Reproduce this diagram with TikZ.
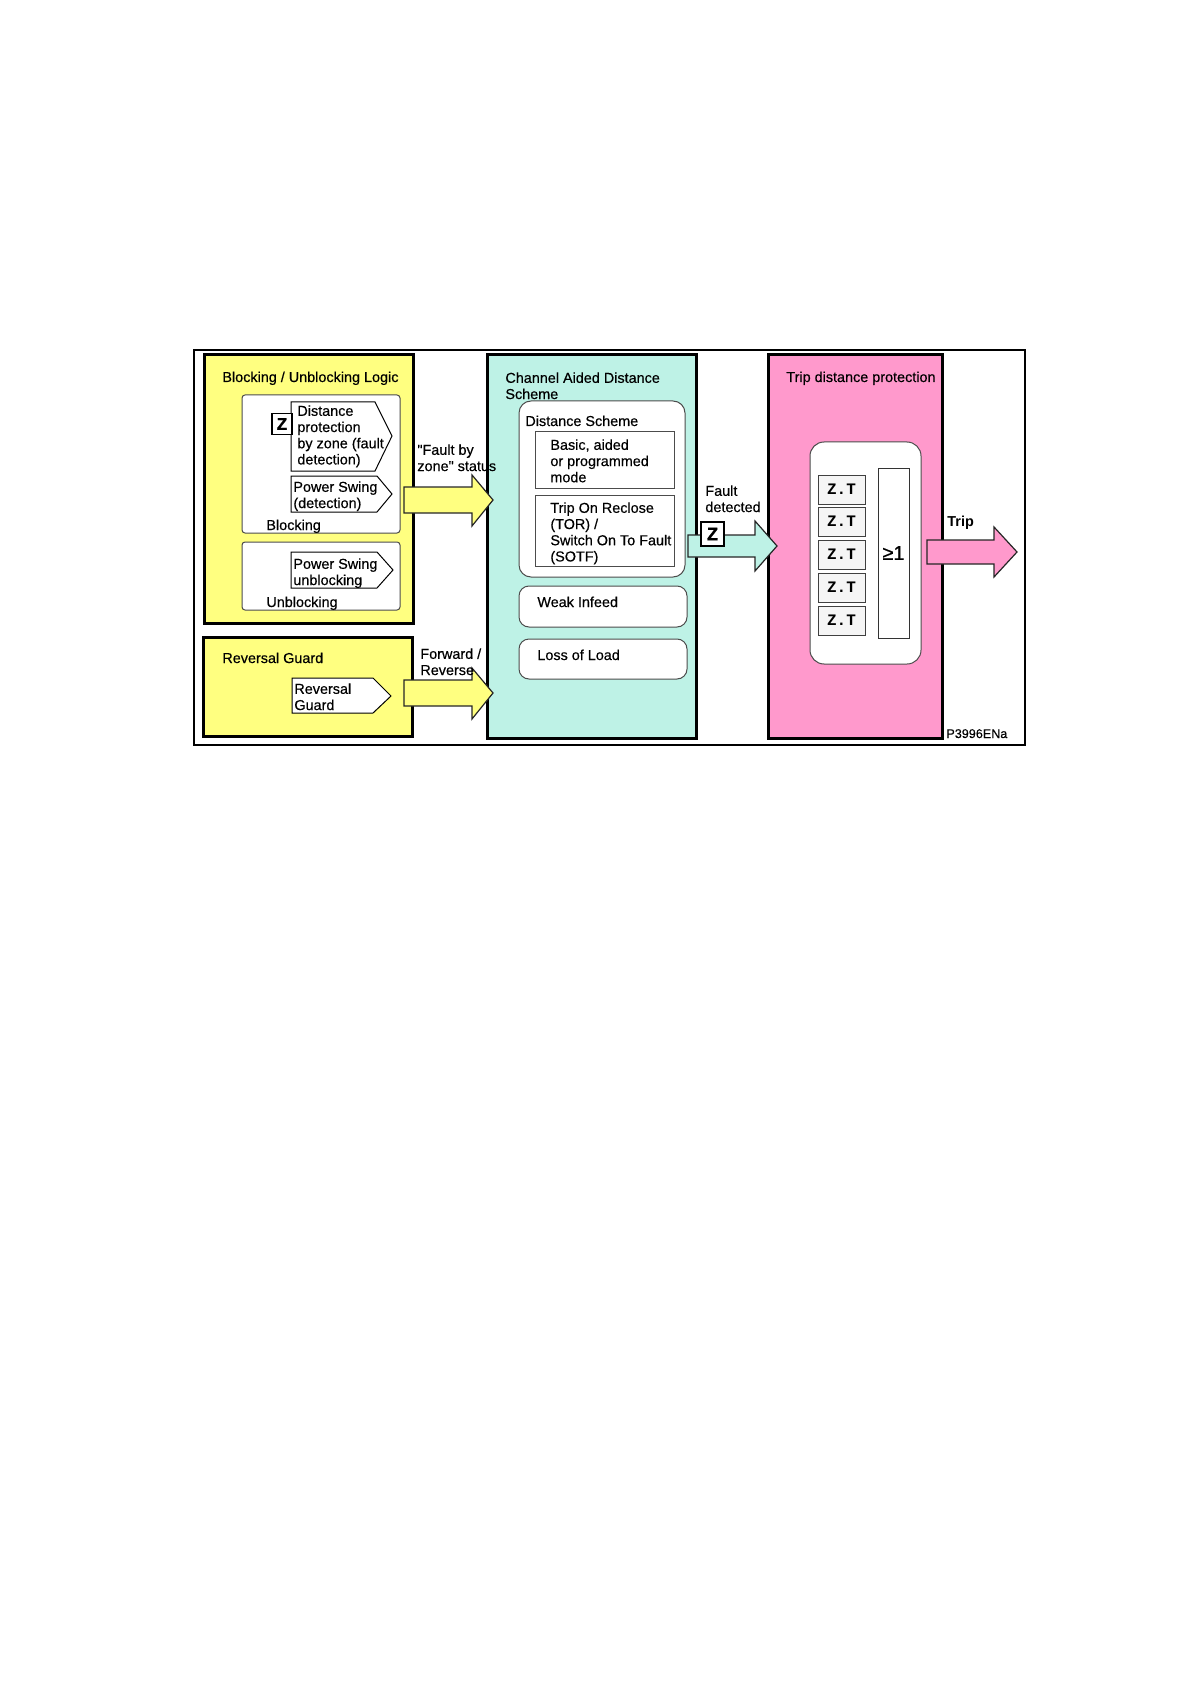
\documentclass[tikz,border=0pt]{standalone}
\usepackage{fontspec}
\setmainfont{Liberation Sans}
\newfontfamily\lblfont{Liberation Sans}[FakeBold=0.4]
\newfontfamily\zheavy{Liberation Sans}[BoldFeatures={FakeBold=1.5}]
\newfontfamily\zmono{Liberation Mono}
\usetikzlibrary{fit}
\definecolor{ylw}{HTML}{FFFF80}
\definecolor{cyn}{HTML}{BEF2E6}
\definecolor{pnk}{HTML}{FF99CC}
\begin{document}
\begin{tikzpicture}[x=0.5pt,y=-0.5pt,
  lbl/.style={font=\lblfont\fontsize{7.2}{8.1}\selectfont, inner sep=0pt, align=left},
  heavybox/.style={draw=black, line width=1.5pt, inner sep=0pt},
  lightbox/.style={draw=black!70, line width=0.5pt, inner sep=0pt, fill=white},
  pent/.style={draw=black, line width=0.5pt, fill=white},
  barrow/.style={draw=black!85, line width=0.6pt},
  ztbox/.style={draw=black!75, fill=black!4, line width=0.5pt, minimum width=23.5pt, minimum height=14.5pt, inner sep=0pt, font=\zmono\bfseries\fontsize{8}{8}\selectfont},
  zbox/.style={draw=black, fill=white, line width=0.6pt, inner sep=0pt, font=\zheavy\bfseries\fontsize{9}{9}\selectfont}]
\useasboundingbox (0,0) rectangle (1191,1684);

% outer frame
\node[draw, line width=0.6pt, inner sep=0pt, fit={(194,350) (1025,745)}] (outer) {};

% main blocks
\node[heavybox, fill=ylw, fit={(204,355) (413,623)}] (blu) {};
\node[heavybox, fill=ylw, fit={(203,637) (412,736)}] (rg) {};
\node[heavybox, fill=cyn, fit={(487,355) (696,738)}] (cads) {};
\node[heavybox, fill=pnk, fit={(768,355) (942,738)}] (tdp) {};

% titles
\node[lbl, anchor=base west] (bluT) at (222,382) {Blocking / Unblocking Logic};
\node[lbl, anchor=base west] (rgT) at (222,663) {Reversal Guard};
\node[lbl, anchor=north west] (cadsT) at (505,372) {Channel Aided Distance\\Scheme};
\node[lbl, anchor=base west] (tdpT) at (786,382) {Trip distance protection};

% blocking / unblocking
\node[lightbox, rounded corners=1.5pt, fit={(242,395) (400,533)}] (blkbox) {};
\node[lightbox, rounded corners=1.5pt, fit={(242,542) (400,610)}] (ublkbox) {};
\node[lbl, anchor=base west] (blkL) at (266,530) {Blocking};
\node[lbl, anchor=base west] (ublkL) at (266,607) {Unblocking};

\draw[pent] (291,402) -- (375,402) -- (392,436) -- (375,471) -- (291,471) -- cycle;
\node[lbl, anchor=north west] (dp) at (297,405) {Distance\\protection\\by zone (fault\\detection)};
\draw[pent] (291,476) -- (377,476) -- (392,494) -- (377,512) -- (291,512) -- cycle;
\node[lbl, anchor=north west] (psd) at (293,481) {Power Swing\\(detection)};
\draw[pent] (291,552) -- (377,552) -- (393,570) -- (377,588) -- (291,588) -- cycle;
\node[lbl, anchor=north west] (psu) at (293,558) {Power Swing\\unblocking};
\draw[pent] (292,678) -- (373,678) -- (391,696) -- (373,713) -- (292,713) -- cycle;
\node[lbl, anchor=north west] (rgp) at (294,683) {Reversal\\Guard};

\node[zbox, minimum width=10pt, minimum height=10.5pt, font=\zheavy\bfseries\fontsize{8.5}{8.5}\selectfont] (z1) at (282,424) {Z};

% channel aided distance scheme
\node[lightbox, rounded corners=6pt, fit={(519,401) (685,577)}] (ds) {};
\node[lbl, anchor=base west] (dsT) at (525,426) {Distance Scheme};
\node[lightbox, fit={(535,432) (674,488)}] (basic) {};
\node[lbl, anchor=north west] (basicT) at (550,439) {Basic, aided\\or programmed\\mode};
\node[lightbox, fit={(535,495) (674,566)}] (tor) {};
\node[lbl, anchor=north west] (torT) at (550,502) {Trip On Reclose\\(TOR) /\\Switch On To Fault\\(SOTF)};
\node[lightbox, rounded corners=5pt, fit={(519,586) (687,627)}] (wi) {};
\node[lbl, anchor=base west] (wiT) at (537,607) {Weak Infeed};
\node[lightbox, rounded corners=5pt, fit={(519,639) (687,679)}] (lol) {};
\node[lbl, anchor=base west] (lolT) at (537,660) {Loss of Load};

% trip distance protection
\node[lightbox, rounded corners=7pt, fit={(810,442) (921,664)}] (grp) {};
\foreach \i/\yy in {1/489.5, 2/521.5, 3/554.5, 4/587.5, 5/620.5}
  \node[ztbox] (zt\i) at (841.5,\yy) {Z.T};
\node[draw=black!80, line width=0.5pt, fill=white, minimum width=15.5pt, minimum height=85pt, inner sep=0pt] (orgate) at (893.5,553) {};
\node[font=\lblfont\fontsize{10}{10}\selectfont, inner sep=0pt] (orT) at (893.5,553) {≥1};

% block arrows
\draw[barrow, fill=ylw] (404,487) -- (472,487) -- (472,475) -- (493,500) -- (472,526) -- (472,513) -- (404,513) -- cycle;
\draw[barrow, fill=ylw] (404,680) -- (472,680) -- (472,668) -- (493,693) -- (472,719) -- (472,706) -- (404,706) -- cycle;
\draw[barrow, fill=cyn] (688,535) -- (755,535) -- (755,521) -- (777,546) -- (755,571) -- (755,557) -- (688,557) -- cycle;
\draw[barrow, fill=pnk] (927,540) -- (994,540) -- (994,527) -- (1017,552) -- (994,577) -- (994,564) -- (927,564) -- cycle;

% arrow labels
\node[lbl, anchor=north west] (fbz) at (417,444) {"Fault by\\zone" status};
\node[lbl, anchor=north west] (fr) at (420,648) {Forward /\\Reverse};
\node[lbl, anchor=north west] (fd) at (705,485) {Fault\\detected};
\node[zbox, minimum width=11.5pt, minimum height=12pt] (z2) at (712.5,534) {Z};
\node[lbl, anchor=base west, font=\bfseries\fontsize{7.2}{8.1}\selectfont] (trip) at (947,526) {Trip};
\node[lbl, anchor=base west, font=\lblfont\fontsize{6.3}{7}\selectfont] (pid) at (946,738) {P3996ENa};
\end{tikzpicture}
\end{document}
